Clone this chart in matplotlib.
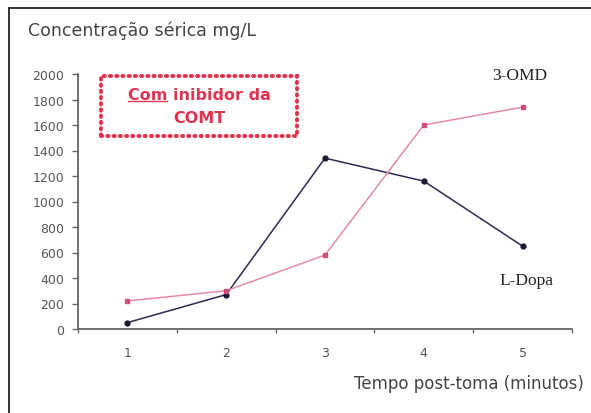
import matplotlib
matplotlib.use("Agg")
import matplotlib.pyplot as plt
from matplotlib.lines import Line2D
from matplotlib.patches import FancyBboxPatch

# Serum concentration over time after intake
times = [1, 2, 3, 4, 5]
ldopa = [50, 270, 1340, 1160, 650]
omd3 = [220, 300, 580, 1600, 1740]
y_ticks = [0, 200, 400, 600, 800, 1000, 1200, 1400, 1600, 1800, 2000]

fig = plt.figure(figsize=(5.91, 4.14), dpi=100)
fig.patch.set_facecolor("white")

# frame lines along the top and left edges of the figure
fig.add_artist(Line2D([9 / 591, 1.0], [1 - 9 / 414, 1 - 9 / 414],
                      transform=fig.transFigure, color="#333333", lw=1.4))
fig.add_artist(Line2D([9 / 591, 9 / 591], [0.0, 1 - 9 / 414],
                      transform=fig.transFigure, color="#333333", lw=1.4))

ax = fig.add_axes([78 / 591, 1 - 330 / 414, (572 - 78) / 591, (330 - 75) / 414])
ax.set_facecolor("white")

ax.plot(times, ldopa, color="#2b2b4f", lw=1.1, marker="o", ms=3.5,
        markerfacecolor="#1a1a2e", markeredgecolor="#1a1a2e")
ax.plot(times, omd3, color="#e48aa8", lw=1.1, marker="s", ms=3.5,
        markerfacecolor="#d0507a", markeredgecolor="#d0507a")

ax.set_xlim(0.5, 5.5)
ax.set_ylim(0, 2000)
ax.set_yticks(y_ticks)
ax.set_yticklabels([str(v) for v in y_ticks])
ax.set_xticks(times)
ax.set_xticklabels([str(t) for t in times])
ax.set_xticks([0.5 + k for k in range(6)], minor=True)

for s in ("top", "right"):
    ax.spines[s].set_visible(False)
for s in ("left", "bottom"):
    ax.spines[s].set_color("#666666")
    ax.spines[s].set_linewidth(1.3)

ax.tick_params(axis="y", direction="out", length=4, width=1, color="#666666",
               labelsize=9, labelcolor="#555555", pad=6)
ax.tick_params(axis="x", which="major", length=0, labelsize=9,
               labelcolor="#555555", pad=12)
ax.tick_params(axis="x", which="minor", direction="out", length=3, width=1,
               color="#666666")

fig.text(28 / 591, 1 - 31 / 414, "Concentração sérica mg/L", fontsize=12.5,
         color="#444444", va="center", ha="left")
fig.text(584 / 591, 1 - 384 / 414, "Tempo post-toma (minutos)", fontsize=12,
         color="#444444", va="center", ha="right")

# series labels
fig.text(520 / 591, 1 - 76 / 414, "3-OMD", fontsize=12.5, family="Liberation Serif",
         color="#222222", ha="center", va="center")
fig.text(526 / 591, 1 - 281 / 414, "L-Dopa", fontsize=12.5, family="Liberation Serif",
         color="#222222", ha="center", va="center")

# dotted annotation box
red = "#e0334f"
box = FancyBboxPatch((101 / 591, 1 - 137 / 414), (297 - 101) / 591, (137 - 77) / 414,
                     boxstyle="square,pad=0", transform=fig.transFigure,
                     fill=False, edgecolor=red, lw=2.8, linestyle=(0, (0.35, 1.25)))
box.set_capstyle("round")
fig.add_artist(box)
t1 = fig.text(199 / 591, 1 - 95 / 414, "Com inibidor da", fontsize=11.5,
              fontweight="bold", color=red, ha="center", va="center")
fig.text(199 / 591, 1 - 119 / 414, "COMT", fontsize=11.5,
         fontweight="bold", color=red, ha="center", va="center")

# underline beneath "Com"
fig.canvas.draw()
r = fig.canvas.get_renderer()
bb = t1.get_window_extent(r)
probe = fig.text(0, 0, "Com", fontsize=11.5, fontweight="bold")
w_com = probe.get_window_extent(r).width
probe.remove()
x0 = bb.x0 / fig.bbox.width
x1 = (bb.x0 + w_com) / fig.bbox.width
yu = (bb.y0 + 1) / fig.bbox.height
fig.add_artist(Line2D([x0, x1], [yu, yu], transform=fig.transFigure,
                      color=red, lw=1.0))

fig.savefig("out.png", dpi=100, facecolor="white")
